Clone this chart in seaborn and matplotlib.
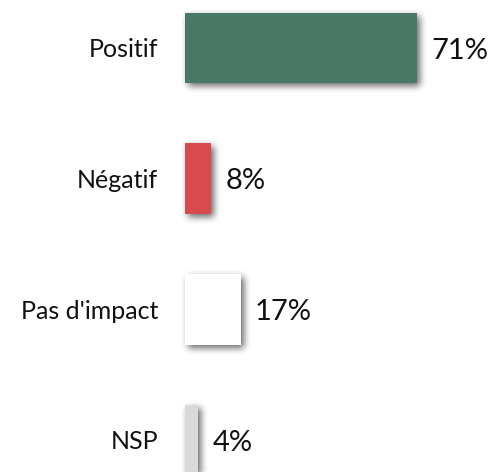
import matplotlib
matplotlib.use("Agg")
import matplotlib.pyplot as plt
from matplotlib.patches import Rectangle
import numpy as np
import seaborn as sns
import pandas as pd

categories = ["Positif", "Négatif", "Pas d'impact", "NSP"]
values = [71, 8, 17, 4]
colors = ["#4a7866", "#d94a4e", "#ffffff", "#d9d9d9"]

df = pd.DataFrame({"categorie": categories, "valeur": values})

sns.set_theme(style="white")
plt.rcParams["font.family"] = ["Lato", "DejaVu Sans"]


def _box_blur(a, r):
    # separable box blur via cumulative sums
    for axis in (0, 1):
        c = np.cumsum(np.pad(a, [(r + 1, r) if i == axis else (0, 0) for i in range(2)],
                             mode="constant"), axis=axis)
        if axis == 0:
            a = (c[2 * r + 1:, :] - c[:-2 * r - 1, :]) / (2 * r + 1)
        else:
            a = (c[:, 2 * r + 1:] - c[:, :-2 * r - 1]) / (2 * r + 1)
    return a


class SoftShadow:
    def __init__(self, dx=3, dy=3, radius=3, alpha=0.6, pad=16):
        self.dx, self.dy, self.radius, self.alpha, self.pad = dx, dy, radius, alpha, pad

    def __call__(self, im, dpi):
        p = self.pad
        a = np.pad(im[..., 3], p, mode="constant")
        for _ in range(3):
            a = _box_blur(a, self.radius)
        out = np.zeros(a.shape + (4,), dtype=im.dtype)
        out[..., 3] = np.clip(a * self.alpha, 0, 1)
        return out, -p + self.dx, -p - self.dy


fig = plt.figure(figsize=(4.91, 4.72), dpi=100)
ax = fig.add_axes([185 / 491, 0, 1 - 185 / 491, 1])

sns.barplot(data=df, x="valeur", y="categorie", hue="categorie",
            palette=colors, order=categories, hue_order=categories,
            orient="h", width=0.54, saturation=1, legend=False, ax=ax)

# blurred drop shadow behind every bar
for patch in list(ax.patches):
    patch.set_edgecolor("none")
    patch.set_zorder(3)
    sh = Rectangle(patch.get_xy(), patch.get_width(), patch.get_height(),
                   facecolor="black", edgecolor="none", zorder=2)
    sh.set_agg_filter(SoftShadow())
    ax.add_patch(sh)

for i, v in enumerate(values):
    ax.text(v + 4.4, i + 0.02, f"{v}%", va="center", ha="left",
            fontsize=21, color="#111111", zorder=4)

ax.set_xlim(0, 93.6)
ax.set_ylim(3.245, -0.367)
ax.set_xlabel("")
ax.set_ylabel("")
ax.set_xticks([])
ax.tick_params(axis="y", length=0, pad=19.5, labelsize=18, labelcolor="#111111")
for s in ax.spines.values():
    s.set_visible(False)

fig.savefig("out.png", dpi=100)
